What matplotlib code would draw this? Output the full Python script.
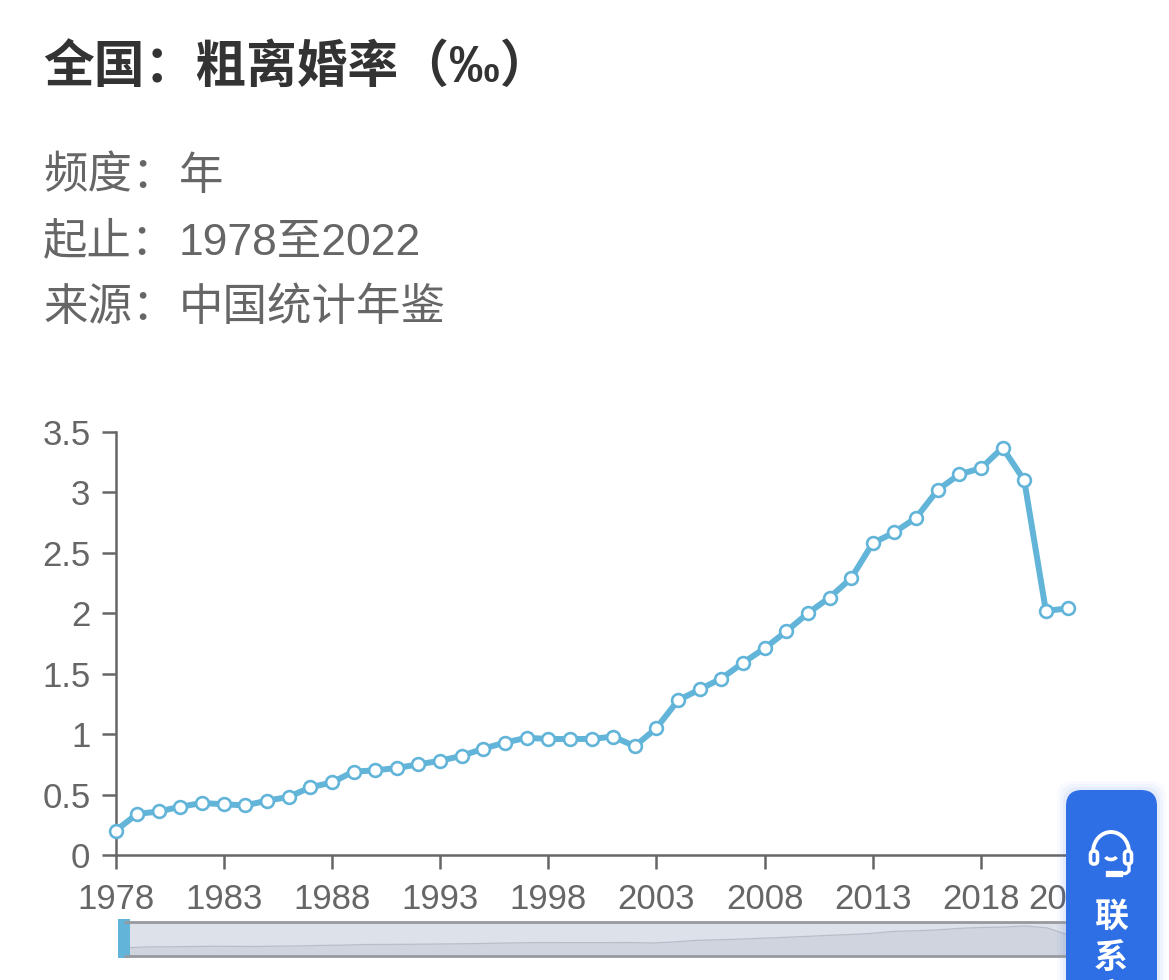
import matplotlib
matplotlib.use('Agg')
import matplotlib.pyplot as plt
from matplotlib.patches import FancyBboxPatch, Rectangle, Arc

years = list(range(1978, 2023))
rate = [0.20, 0.34, 0.36, 0.40, 0.43, 0.42, 0.41, 0.45, 0.48, 0.56,
        0.60, 0.69, 0.70, 0.72, 0.75, 0.78, 0.82, 0.88, 0.93, 0.97,
        0.96, 0.96, 0.96, 0.98, 0.90, 1.05, 1.28, 1.37, 1.46, 1.59,
        1.71, 1.85, 2.00, 2.13, 2.29, 2.58, 2.67, 2.79, 3.02, 3.15,
        3.20, 3.37, 3.10, 2.02, 2.04]
xticks = [1978, 1983, 1988, 1993, 1998, 2003, 2008, 2013, 2018, 2022]
yticks = [0, 0.5, 1, 1.5, 2, 2.5, 3, 3.5]
ylabels = ['0', '0.5', '1', '1.5', '2', '2.5', '3', '3.5']
title = '全国：粗离婚率（‰）'
meta_keys = ['频度：', '起止：', '来源：']
meta_vals = ['年', '1978至2022', '中国统计年鉴']
button_chars = ['联', '系', '客']

W, H = 1169, 980
FONTS = ['Liberation Sans', 'Noto Sans CJK SC']
LINE = '#62b5d9'
GREY = '#666666'

def px_axes(fig, x0, y0, x1, y1, **kw):
    # pixel box, y measured from the top
    return fig.add_axes([x0/W, 1-y1/H, (x1-x0)/W, (y1-y0)/H], **kw)

fig = plt.figure(figsize=(W/100, H/100), dpi=100, facecolor='white')

# main chart
ax = px_axes(fig, 115.5, 432, 1067.5, 855)
ax.plot(years, rate, color=LINE, lw=4.3, marker='o', ms=9.2, mfc='white',
        mec=LINE, mew=1.9, clip_on=False, zorder=5)
ax.set_xlim(1978, 2022)
ax.set_ylim(0, 3.5)
ax.set_xticks(xticks)
ax.set_yticks(yticks)
ax.set_yticklabels(ylabels, family=FONTS, fontsize=25, color=GREY)
ax.set_xticklabels([str(y) for y in xticks], family=FONTS, fontsize=25, color=GREY)
ax.tick_params(axis='both', length=10, width=1.8, color=GREY)
ax.tick_params(axis='x', pad=10)
ax.tick_params(axis='y', pad=8)
for s in ['top', 'right']:
    ax.spines[s].set_visible(False)
for s in ['left', 'bottom']:
    ax.spines[s].set_color(GREY)
    ax.spines[s].set_linewidth(1.8)

# page layer under the slider curve
pg = px_axes(fig, 0, 0, W, H, zorder=10)
pg.set_xlim(0, W)
pg.set_ylim(H, 0)
pg.axis('off')
pg.patch.set_alpha(0)
pg.add_patch(Rectangle((124, 922), 967, 34, fc='#dde1ea', ec='none', zorder=0))

# slider curve
sl = px_axes(fig, 124, 922, 1091, 956, zorder=11)
sl.fill_between(years, rate, -0.97, color='#cfd4de', lw=0)
sl.plot(years, rate, color='#b8bdca', lw=0.9)
sl.set_xlim(1978, 2022)
sl.set_ylim(-0.97, 3.94)
sl.axis('off')

# page layer on top
pg2 = px_axes(fig, 0, 0, W, H, zorder=12)
pg2.set_xlim(0, W)
pg2.set_ylim(H, 0)
pg2.axis('off')
pg2.patch.set_alpha(0)
pg2.plot([124, 1066], [922, 922], color='#96999f', lw=2.0, solid_capstyle='butt')
pg2.plot([124, 1066], [956, 956], color='#96999f', lw=2.0, solid_capstyle='butt')
pg2.add_patch(Rectangle((118, 919), 12, 39, fc=LINE, ec='none'))

pg2.text(43, 68, title, family=FONTS, fontsize=36.5, fontweight='bold',
         color='#333333', va='center', ha='left')
for i, yy in enumerate([177, 243, 308]):
    pg2.text(43, yy, meta_keys[i], family=FONTS, fontsize=32, color=GREY, va='center')
    pg2.text(179, yy, meta_vals[i], family=FONTS, fontsize=32, color=GREY, va='center')

# contact button
for pad, a in [(9, 0.03), (6, 0.04), (3, 0.06)]:
    pg2.add_patch(FancyBboxPatch((1066-pad, 790-pad), 91+2*pad, 260,
                  boxstyle='round,pad=0,rounding_size=16', fc='#2f6fe6', ec='none', alpha=a))
pg2.add_patch(FancyBboxPatch((1066, 790), 91, 260,
              boxstyle='round,pad=0,rounding_size=16', fc='#2f6fe6', ec='none', zorder=3))
pg2.add_patch(Arc((1111, 852), 36, 40, theta1=180, theta2=360, color='white', lw=2.8, zorder=4))
for px in [1090.5, 1124.5]:
    pg2.add_patch(FancyBboxPatch((px, 851), 7, 13, boxstyle='round,pad=0,rounding_size=3.5',
                  fc='none', ec='white', lw=2.6, zorder=4))
pg2.add_patch(Arc((1111, 855), 12, 9, theta1=20, theta2=160, color='white', lw=2.6, zorder=4))
pg2.plot([1129, 1129, 1126, 1109], [864, 871, 873.5, 873.5], color='white', lw=2.4, zorder=4)
pg2.plot([1109, 1120], [873.5, 873.5], color='white', lw=4.5, zorder=4)
for ch, yy in zip(button_chars, [918, 959, 999]):
    pg2.text(1111, yy, ch, family=FONTS, fontsize=24.5, fontweight='bold',
             color='white', ha='center', va='center', zorder=5)

fig.savefig('out.png', dpi=100)
